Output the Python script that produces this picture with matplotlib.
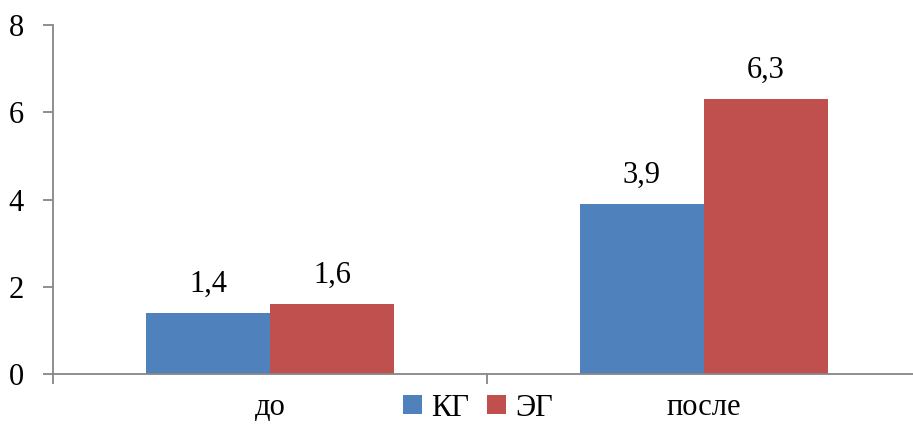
import matplotlib.pyplot as plt
import numpy as np

plt.rcParams['font.family'] = ['Liberation Serif', 'DejaVu Serif']

categories = ['до', 'после']
kg_values = [1.4, 3.9]
eg_values = [1.6, 6.3]
kg_labels = ['1,4', '3,9']
eg_labels = ['1,6', '6,3']
series_names = ['КГ', 'ЭГ']

blue = '#4F81BD'
red = '#C0504D'
axis_gray = '#868686'

fig = plt.figure(figsize=(9.13, 4.26), dpi=100)
ax = fig.add_axes([53 / 913, 1 - 374 / 426, 868 / 913, (374 - 25) / 426])

x = np.arange(len(categories))
w = 0.286
b1 = ax.bar(x - w / 2, kg_values, w, color=blue, label=series_names[0])
b2 = ax.bar(x + w / 2, eg_values, w, color=red, label=series_names[1])

for bars, labels in [(b1, kg_labels), (b2, eg_labels)]:
    for rect, lab in zip(bars, labels):
        ax.annotate(lab, (rect.get_x() + rect.get_width() / 2, rect.get_height()),
                    xytext=(0, 10), textcoords='offset points',
                    ha='center', va='bottom', fontsize=22)

ax.set_xlim(-0.5, 1.5)
ax.set_ylim(0, 8)
ax.set_yticks([0, 2, 4, 6, 8])
ax.set_yticklabels(['0', '2', '4', '6', '8'])

ax.set_xticks(x)
ax.set_xticklabels(categories)
ax.set_xticks([-0.5, 0.5, 1.5], minor=True)
ax.tick_params(axis='x', which='major', length=0, pad=14, labelsize=22)
ax.tick_params(axis='x', which='minor', length=7, width=1.3, color=axis_gray, direction='out')
ax.tick_params(axis='y', length=7, width=1.3, color=axis_gray, direction='out', pad=14, labelsize=22)

for side in ['top', 'right']:
    ax.spines[side].set_visible(False)
for side in ['left', 'bottom']:
    ax.spines[side].set_color(axis_gray)
    ax.spines[side].set_linewidth(1.3)

fig.legend(loc='center', bbox_to_anchor=(478 / 913, 1 - 408 / 426), ncol=2,
           frameon=False, fontsize=22, handlelength=0.6, handleheight=0.6,
           handletextpad=0.3, columnspacing=0.6, borderpad=0)

fig.savefig('out.png', dpi=100)
